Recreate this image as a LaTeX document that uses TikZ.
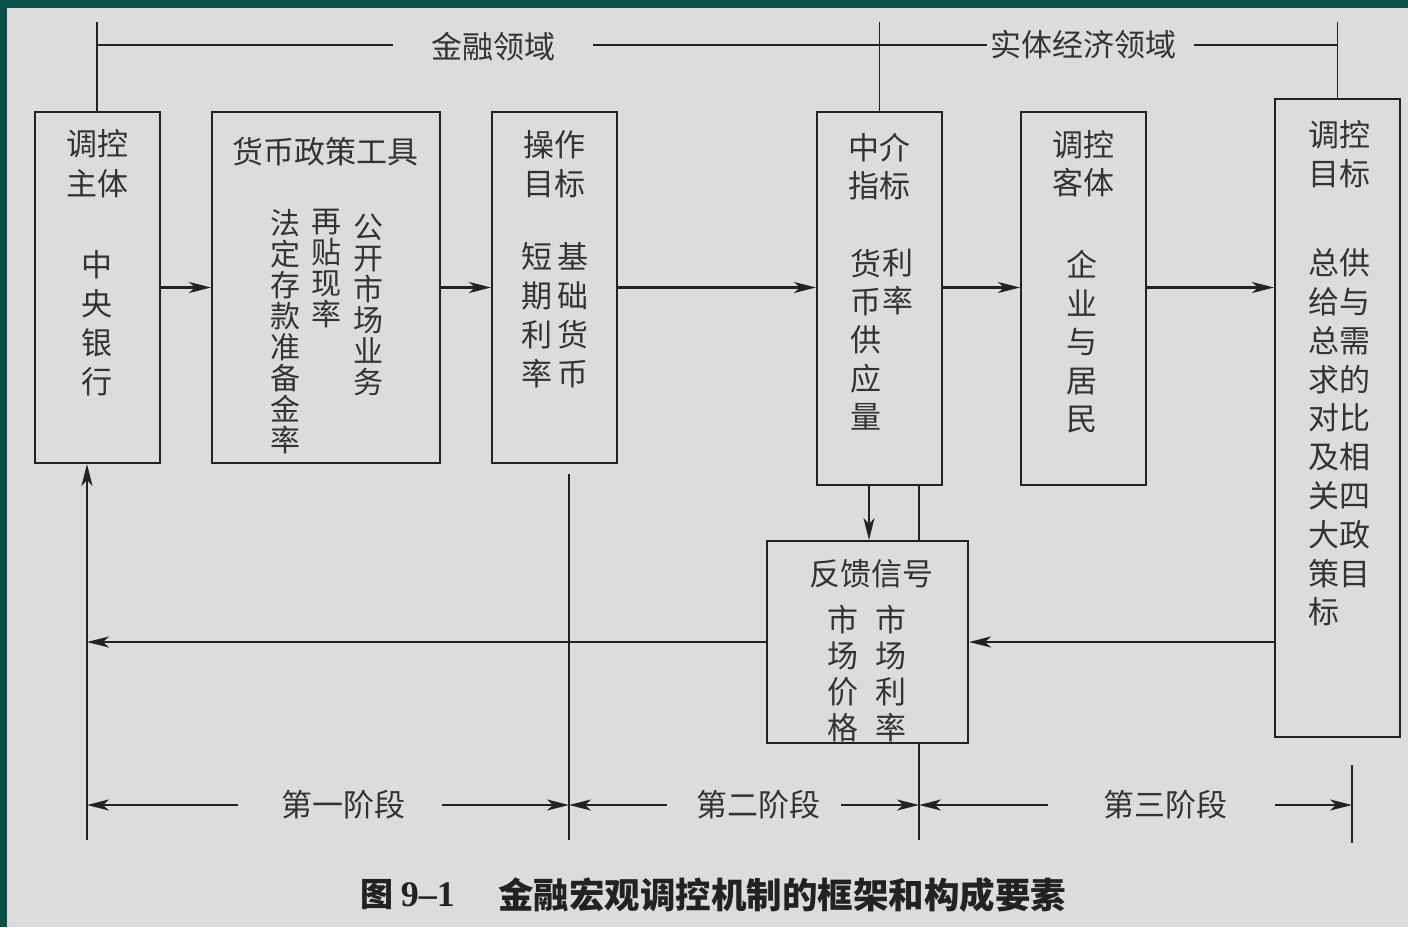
\documentclass[tikz,border=0pt]{standalone}
\usepackage{fontspec}
\setmainfont{Noto Sans CJK SC}
\newfontfamily\numfont{Liberation Serif}
\usetikzlibrary{arrows.meta}
\definecolor{bggray}{HTML}{DCDCDC}
\definecolor{framegreen}{HTML}{0B5147}
\definecolor{ink}{HTML}{222222}
\definecolor{txt}{HTML}{333333}
\begin{document}
\begin{tikzpicture}[x=1pt,y=-1pt,
  boxnode/.style={draw=ink, line width=2pt, inner sep=0pt},
  lab/.style={text=txt, inner sep=0pt, align=center, font=\fontsize{31}{40}\selectfont},
  col/.style={text=txt, inner sep=0pt, align=center, font=\fontsize{31}{39}\selectfont},
  tightcol/.style={text=txt, inner sep=0pt, align=center, font=\fontsize{30}{31}\selectfont},
  thinline/.style={draw=ink, line width=1.6pt},
  tipstyle/.style={-{Stealth[length=22pt,width=11pt,inset=6pt]}},
  mainarrow/.style={draw=ink, line width=2.6pt, tipstyle},
  stagearrow/.style={draw=ink, line width=1.8pt, tipstyle}
]
% background and frame
\useasboundingbox (0,0) rectangle (1408,927);
\fill[bggray] (0,0) rectangle (1408,927);
\fill[framegreen] (0,0) rectangle (1408,8);
\fill[framegreen] (0,0) rectangle (7,927);

% boxes
\node[boxnode, minimum width=125pt, minimum height=351pt] (b1) at (97,287.5) {};
\node[boxnode, minimum width=228pt, minimum height=351pt] (b2) at (326,287.5) {};
\node[boxnode, minimum width=125pt, minimum height=351pt] (b3) at (554.5,287.5) {};
\node[boxnode, minimum width=125pt, minimum height=373pt] (b4) at (879.5,298.5) {};
\node[boxnode, minimum width=125pt, minimum height=373pt] (b5) at (1083.5,298.5) {};
\node[boxnode, minimum width=125pt, minimum height=638pt] (b6) at (1337.5,418) {};
\node[boxnode, minimum width=201pt, minimum height=202pt] (b7) at (867.5,642) {};

% box texts
\node[lab] (t1a) at (97,164) {调控\\主体};
\node[col] (t1b) at (97,323.5) {中\\央\\银\\行};

\node[lab] (t2a) at (325,152) {货币政策工具};
\node[tightcol] (t2c1) at (368,304.5) {公\\开\\市\\场\\业\\务};
\node[tightcol] (t2c2) at (326,268.5) {再\\贴\\现\\率};
\node[tightcol] (t2c3) at (285,331.5) {法\\定\\存\\款\\准\\备\\金\\率};

\node[lab, font=\fontsize{31}{39}\selectfont] (t3a) at (554,164) {操作\\目标};
\node[col] (t3c1) at (573,315.5) {基\\础\\货\\币};
\node[col] (t3c2) at (537,315.5) {短\\期\\利\\率};

\node[lab, font=\fontsize{31}{38}\selectfont] (t4a) at (879,167) {中介\\指标};
\node[col, font=\fontsize{31}{38}\selectfont] (t4c1) at (898,281.5) {利\\率};
\node[col, font=\fontsize{31}{38.25}\selectfont] (t4c2) at (866,339.5) {货\\币\\供\\应\\量};

\node[lab, font=\fontsize{31}{38}\selectfont] (t5a) at (1083,164) {调控\\客体};
\node[col, font=\fontsize{31}{38.5}\selectfont] (t5b) at (1082,342) {企\\业\\与\\居\\民};

\node[lab, font=\fontsize{31}{39}\selectfont] (t6a) at (1339,154) {调控\\目标};
\node[col, align=left, anchor=west, font=\fontsize{31}{38.8}\selectfont] (t6b) at (1308,437.5)
  {总供\\给与\\总需\\求的\\对比\\及相\\关四\\大政\\策目\\标};

\node[lab] (t7a) at (871,574) {反馈信号};
\node[col, font=\fontsize{31}{36}\selectfont] (t7c1) at (891,674) {市\\场\\利\\率};
\node[col, font=\fontsize{31}{36}\selectfont] (t7c2) at (843,674) {市\\场\\价\\格};

% top domain bracket
\coordinate (h) at (0,45);
\coordinate (top) at (0,22);
\node[lab] (lf1) at (493,47) {金融领域};
\node[lab] (lf2) at (1083,45) {实体经济领域};
\draw[thinline] (b1.north |- top) -- (b1.north);
\draw[thinline] (b4.north |- top) -- (b4.north);
\draw[thinline] (b6.north |- top) -- (b6.north);
\draw[thinline] (b1.north |- h) -- ([xshift=-38pt]lf1.west |- h);
\draw[thinline] ([xshift=38pt]lf1.east |- h) -- ([xshift=-3pt]lf2.west |- h);
\draw[thinline] ([xshift=18pt]lf2.east |- h) -- (b6.north |- h);

% main flow
\draw[mainarrow] (b1.east) -- (b2.west);
\draw[mainarrow] (b2.east) -- (b3.west);
\draw[mainarrow] (b3.east) -- (b3.east -| b4.west);
\draw[mainarrow] (b3.east -| b4.east) -- (b3.east -| b5.west);
\draw[mainarrow] (b3.east -| b5.east) -- (b3.east -| b6.west);

% between intermediate box and feedback box
\coordinate (xa) at (869,0);
\coordinate (xb) at (919,0);
\coordinate (xl) at (87,0);
\coordinate (xm) at (569,0);
\coordinate (bot) at (0,840);
\draw[stagearrow] (b4.south -| xa) -- (b7.north -| xa);
\draw[thinline] (b4.south -| xb) -- (b7.north -| xb);

% feedback
\coordinate (fbl) at (87,642);
\draw[mainarrow] (b7.east -| b6.west) -- (b7.east);
\draw[mainarrow] (b7.west) -- (fbl);
\draw[mainarrow] (xl |- bot) -- (b1.south -| xl);

% stage dividers
\draw[thinline] (569,474) coordinate (m1) -- (xm |- bot);
\draw[thinline] (b7.south -| xb) -- (xb |- bot);
\draw[thinline] (1352,765) coordinate (r1) -- (1352,843) coordinate (r2);

% stage labels
\coordinate (sy) at (0,805);
\node[lab] (s1) at (343,805) {第一阶段};
\node[lab] (s2) at (758,805) {第二阶段};
\node[lab] (s3) at (1165,805) {第三阶段};
\draw[stagearrow] ([xshift=-43pt]s1.west) -- (xl |- sy);
\draw[stagearrow] ([xshift=37pt]s1.east) -- (xm |- sy);
\draw[stagearrow] ([xshift=-29pt]s2.west) -- (xm |- sy);
\draw[stagearrow] ([xshift=21pt]s2.east) -- (xb |- sy);
\draw[stagearrow] ([xshift=-55pt]s3.west) -- (xb |- sy);
\draw[stagearrow] ([xshift=48pt]s3.east) -- (r1 |- sy);

% caption
\node[text=ink, inner sep=0pt, anchor=west, font=\fontsize{33}{36}\selectfont\bfseries] (cap1) at (360,895) {图 {\numfont\bfseries\fontsize{36}{36}\selectfont 9–1}};
\node[text=ink, inner sep=0pt, anchor=west, font=\fontsize{35.5}{38}\selectfont\bfseries] (cap2) at (498,895) {金融宏观调控机制的框架和构成要素};
\end{tikzpicture}
\end{document}
